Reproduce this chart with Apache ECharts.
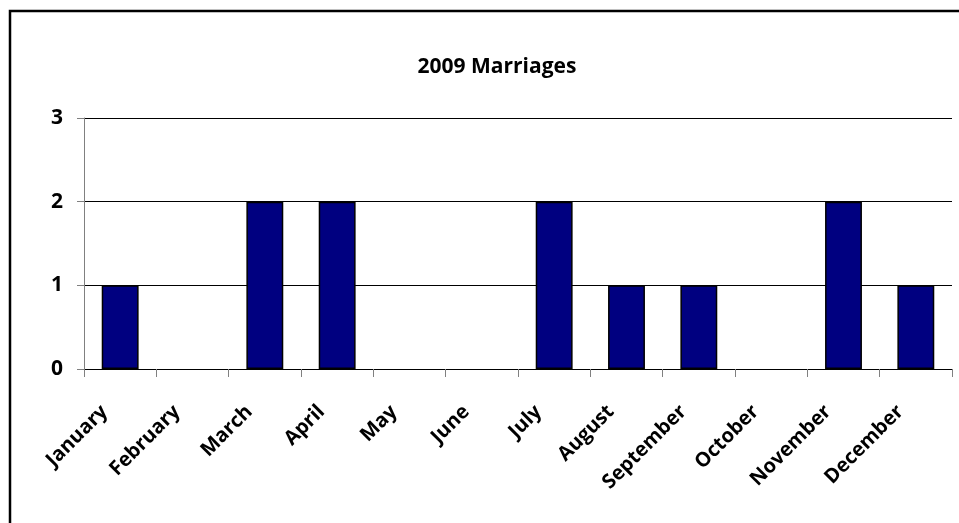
<!DOCTYPE html>
<html>
<head>
<meta charset="utf-8">
<script src="https://cdn.jsdelivr.net/npm/echarts@6/dist/echarts.min.js"></script>
<style>
html,body{margin:0;padding:0;background:#fff;}
#chart{width:959px;height:523px;}
</style>
</head>
<body>
<div id="chart"></div>
<script>
const titleText = '2009 Marriages';
const months = ['January','February','March','April','May','June','July','August','September','October','November','December'];
const marriages = [1,0,2,2,0,0,2,1,1,0,2,1];
const yTicks = [0,1,2,3];

const chart = echarts.init(document.getElementById('chart'), null, {renderer:'canvas'});
const font = 'Open Sans';
chart.setOption({
  animation:false,
  backgroundColor:'#fff',
  title:{text:titleText,left:492,textAlign:'center',top:52,
    textStyle:{fontFamily:font,fontWeight:'bold',fontSize:21,color:'#000'}},
  graphic:[{type:'rect',shape:{x:10,y:11,width:1200,height:1200},
    style:{fill:'none',stroke:'#000',lineWidth:2.5},silent:true,z:100}],
  grid:{left:84,right:7,top:118,bottom:154},
  xAxis:{type:'category',data:months,boundaryGap:true,
    axisLine:{show:true,lineStyle:{color:'#000',width:1}},
    axisTick:{show:true,alignWithLabel:false,length:8,lineStyle:{color:'#808080',width:1}},
    axisLabel:{rotate:45,interval:0,margin:24,padding:[0,22,0,0],fontFamily:font,fontWeight:'bold',fontSize:20,color:'#000'}},
  yAxis:{type:'value',min:0,max:3,interval:1,
    axisLine:{show:true,lineStyle:{color:'#808080',width:1}},
    axisTick:{show:true,inside:false,length:7,lineStyle:{color:'#808080'}},
    splitLine:{show:true,lineStyle:{color:'#000',width:1}},
    axisLabel:{margin:21,fontFamily:font,fontWeight:'bold',fontSize:21,color:'#000',
      formatter:v=>yTicks.includes(v)?String(v):''}},
  series:[{type:'bar',barWidth:'51%',
    data:marriages.map(v=>({value:v,itemStyle:v===0?{borderWidth:0}:{}})),
    itemStyle:{color:'#000080',borderColor:'#000',borderWidth:1.5}}]
});
</script>
</body>
</html>
